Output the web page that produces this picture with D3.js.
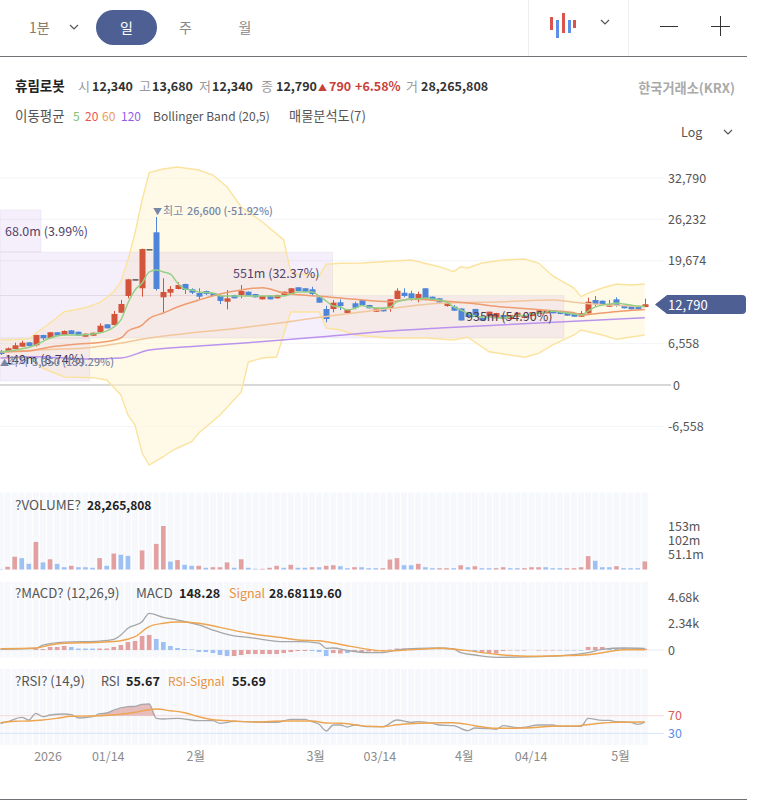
<!DOCTYPE html>
<html><head><meta charset="utf-8">
<script src="https://cdn.jsdelivr.net/npm/d3@7/dist/d3.min.js"></script>
<style>html,body{margin:0;background:#fff}svg{display:block}text{font-family:"Noto Sans CJK KR","Noto Sans",sans-serif}</style>
</head><body><div id="c"></div>
<script>
// ---- data ----
const open  =[5390,5270,5700,6070,6760,6290,7920,7440,8350,7920,8660,8440,7650,7810,8350,9610,9500,11450,14100,16740,15320,21500,24190,13890,14620,15210,16000,15160,14570,14890,14570,14100,13190,14260,14260,14780,14410,13570,14150,13730,14260,14460,15480,15320,15160,13890,12040,12040,13100,11400,12940,13460,12670,11610,12200,12150,13620,14620,14530,13460,15320,13990,13730,12510,12400,12120,11560,12040,10660,10820,10610,11090,10450,10820,10610,10930,11250,11360,11830,11720,11520,11360,10820,11360,13460,13350,12400,13570,12670,12510,12400,12340];
const high  =[5550,5950,6700,7020,6800,7950,7950,8400,8400,8650,8700,8470,8160,8310,9770,9640,11720,13460,16800,16740,21600,21500,26600,16900,15680,16270,16050,15320,15320,14950,14600,14130,15050,14290,15840,14810,14440,14130,14180,14290,14810,15350,15510,15350,15570,13920,12560,13460,13570,12020,13190,13490,12700,12180,12230,13600,15320,15320,14940,14780,15350,14020,13760,13070,12670,12150,11590,12070,10690,11640,11430,11120,11120,11480,11120,11590,11860,11860,11860,11750,11550,11390,11720,13830,14100,13380,13460,13890,12700,12540,12430,13680];
const low   =[4750,5200,5650,6000,6150,6100,7130,7400,7780,7880,8050,7780,7620,7780,8300,8950,9480,11420,13730,16740,13990,21500,14940,11360,13990,15150,14410,14410,13620,14260,14070,12830,11990,13700,13730,14120,13860,13540,13540,13700,14230,14430,14860,14750,14100,13010,9930,11520,11880,11370,11990,12640,12120,11580,11640,11610,13590,13890,13350,13100,13460,13430,13040,12400,11740,10190,10740,10740,10160,10790,10580,10420,10420,10790,10580,10900,11220,11330,11330,11220,10950,10790,10790,11250,12400,12640,12370,12400,12120,11960,11960,12340];
const close =[4910,5810,6290,6700,6180,7920,7400,8350,7810,8550,8080,7810,8130,8280,9390,8980,11250,12830,16740,16740,21540,21500,15210,14730,15210,15840,15050,14620,13990,14410,14100,13310,13730,13730,14890,14150,13890,14100,13570,14260,14780,15320,14890,14780,14410,13040,10450,13040,12510,11990,12240,12670,12150,12150,11670,13570,14940,14100,13730,14410,13730,13460,13070,13040,11770,10220,10770,10770,10190,11610,11400,10450,11090,11450,11090,11560,11830,11830,11360,11250,10980,10820,11360,13190,12830,12670,12830,12670,12150,11990,11990,12790];

const ma5Idx=[0,5,7,9,11,14,16,17,18,19,20,21,22,23,24,25,26,27,28,30,31,32,34,36,40,41,42,44,45,46,47,48,49,50,51,52,53,54,55,56,57,58,59,60,61,62,63,64,65,66,67,68,69,70,71,72,73,74,75,76,77,78,79,80,81,82,83,84,85,86,87,88,89,90,91];
const ma5=[5230,6340,7440,7920,7920,8240,9190,10300,12990,15050,16160,17900,18220,17900,17580,16160,15210,15050,14730,14570,14100,14100,14100,14100,14100,14410,14730,14730,14100,13310,12510,12360,11880,12120,12590,12360,12200,12200,12360,13150,13460,13620,13620,13780,13620,13460,13150,12360,11880,11400,10930,10770,10770,10610,10610,10770,11090,10930,11250,11400,11560,11720,11560,11400,11250,11090,11720,12360,12670,12830,12990,12830,12670,12510,12430];
const ma20Idx=[0,4,7,11,14,17,18,20,21,23,25,28,31,34,37,40,46,50,55,58,62,66,71,75,78,81,82,85,88,91];
const ma20=[5230,5390,6020,6490,6730,7440,8550,9500,10530,11400,12360,13460,14410,15050,15410,14570,13990,13570,13190,13570,13350,12990,12360,12040,11770,11450,11090,11400,11720,11960];
const ma60Idx=[0,5,12,17,21,25,35,46,55,62,71,78,82,91];
const ma60=[5230,5540,5860,6650,7440,8000,9190,10850,12120,12940,13190,13460,12990,12400];
const ma120Idx=[0,5,12,17,21,28,35,46,55,62,91];
const ma120=[4280,4480,4120,4280,5540,6180,6700,7680,8550,9030,10660];
const bbUpperIdx=[0,4,5,7,9,12,14,16,17,18,19,20,21,23,25,28,30,32,34,36,37,40,41,42,45,46,48,51,58,62,64,65,66,68,71,74,76,78,81,82,83,85,87,89,91];
const bbUpper=[7130,7290,8240,9820,11610,12240,13040,14780,16360,19800,24080,29300,33630,34210,34530,34060,33260,31360,28200,26610,25820,22970,17900,17580,17270,19120,19280,19320,19800,18740,17950,18740,18530,19320,19800,19960,19320,17270,15360,13990,14570,15360,16000,15840,16000];
const bbLowerIdx=[0,4,6,9,13,15,17,18,19,20,21,23,24,25,27,28,31,34,35,37,39,41,45,46,48,50,55,60,64,66,69,74,76,78,81,82,85,87,91];
const bbLower=[4280,4280,2650,1270,1160,790,-1580,-4750,-6340,-10770,-12670,-11360,-10570,-9980,-8980,-7600,-4750,-1110,3640,4280,4440,11560,11560,9030,8710,7920,7440,7440,7130,7560,5270,4390,5020,6340,7920,8710,7920,7240,7920];

const priceTicks=[32790,26232,19674,6558,0,-6558];
const profileRows=[
 {lo:21060,hi:27720,share:3.99,label:"68.0m (3.99%)"},
 {lo:14180,hi:21060,share:32.37,label:"551m (32.37%)"},
 {lo:7440,hi:14180,share:54.90,label:"935m (54.90%)"},
 {lo:630,hi:7440,share:8.74,label:"149m (8.74%)"}];

const volume=[1.5,9.5,45,40,20,97,25,36,20,8,13,8,8,6,40,13,56,52,48,0,67,0,90,153,28,33,16.5,13,13,6,8,8,25,6,36,6,2.5,2.5,6,13,6,16.5,6,6,8,8,13,15,11.6,4.6,8,8,4.6,4.6,4.6,35,40,15,15,20,8,4.6,4.6,4.6,4.6,15,8,11.6,4.6,4.6,4.6,8,4.6,4.6,4.6,8,8,8,4.6,4.6,4.6,4.6,8,47,30.6,8,8,11.6,4.6,4.6,4.6,28.27];
const volumeDir="brrbbrbrbb"+"rbbbrbrbb-"+"r-rrbrbbrb"+"rrrbrbbrrr"+"brbbrbrrbb"+"rbbbrrrbbr"+"bbrrbrbrbb"+"rrbbrrrbbb"+"rrrrbbbrbb"+"br";
const volumeTicks=[153,102,51.1];

const macdHist=[0,0,0,0,0,89,89,270,270,360,270,130,130,130,130,130,270,445,710,800,1250,1340,980,710,360,180,90,45,-180,-180,-270,-445,-535,-535,-445,-360,-360,-360,-360,-360,-270,-180,-90,-90,-90,-180,-535,-270,-310,-270,-180,-180,-130,-130,-90,45,130,130,130,90,45,30,30,30,45,-45,-45,-180,-270,-270,-310,-90,-45,-45,-45,0,-45,-45,-45,-45,-45,-45,-45,270,270,270,180,180,180,90,90,119.6];
const macdHistDir="rrrrrrrrrr"+"bbbbrrrrrr"+"rrbbbbbbbb"+"bbbrrrrrrr"+"rrrrbbbrrb"+"rrrrrrrrrr"+"bbbbrrrbrr"+"rrrrrrrrrb"+"bbbrrrbbbb"+"br";
const macdIdx=[0,5,6,9,14,16,17,18,20,21,23,25,28,30,33,35,40,42,45,46,47,49,52,54,56,59,62,64,65,67,70,75,79,81,83,85,88,91];
const macd=[60,150,445,710,800,950,1340,1930,2520,3270,2910,2670,2230,1780,1250,1130,740,740,620,150,180,-45,-240,-240,0,150,180,90,-240,-445,-650,-620,-530,-420,-240,60,180,148.28];
const signalIdx=[0,5,7,9,14,17,19,21,23,25,28,31,35,40,42,45,47,49,52,54,56,59,62,64,66,70,75,79,83,85,88,91];
const signal=[115,180,445,600,690,830,1190,2080,2380,2490,2380,2020,1490,1070,890,830,620,380,60,-90,-60,60,150,90,-60,-380,-560,-510,-420,-240,25,28.68];
const macdTicks=[4680,2340,0];

const rsiIdx=[0,1,3,4,5,6,7,9,10,11,13,14,15,16,18,19,20,21,22,23,25,28,30,31,33,36,39,41,43,44,45,46,47,48,49,50,52,54,56,58,59,61,62,64,66,67,69,70,71,73,74,76,78,79,82,83,85,86,87,89,90,91];
const rsi=[51.9,56.4,66.4,60.3,75.4,67.7,71.6,73.8,72.3,64.8,67.7,74.5,76.1,82.9,90.3,91.2,95.8,96.4,64.1,62.5,64.1,58.7,58.7,52.8,57.3,55.8,55.1,61.9,61.9,56.4,50.6,35.4,49,49,44.5,49,45.1,45.1,60.3,55.1,56.4,52.8,49,47.4,36.1,42.2,40.6,39.3,47.4,42.9,43.8,49,49,46,46,64.1,59.6,59.6,56.4,55.1,50.6,55.67];
const rsiSigIdx=[0,2,4,6,8,10,13,17,19,21,22,24,26,28,30,33,36,40,44,46,48,50,52,54,56,59,62,64,67,70,74,79,81,84,87,91];
const rsiSig=[54.2,57.3,58,60.3,64.1,68.6,69.3,73.2,77.7,83.6,85.1,81.3,76.8,67.7,61,58,55.8,58,58,53.5,52.8,49.7,46,45.1,49.7,52.8,54.2,54.2,47.4,41.5,42.2,46.7,46.7,51.9,55.1,55.69];
const rsiTicks=[70,30];

const dateIdx=[7,15,28,45,54,66,75,88];
const dateLabels=["2026","01/14","2월","3월","03/14","4월","04/14","5월"];

// ---- layout ----
const W=757,H=800,RED="#d4533b",BLUE="#4f85d9";
const svg=d3.select("#c").append("svg").attr("width",W).attr("height",H);
const x=d3.scaleLinear().domain([0,91]).range([0.5,644.8]);
const y=d3.scaleLinear().domain([0,32790]).range([385,178]);
const yVol=d3.scaleLinear().domain([0,153]).range([569.5,526]);
const yMacd=d3.scaleLinear().domain([0,4680]).range([650,597.5]);
const yRsi=d3.scaleLinear().domain([30,70]).range([733.4,715.7]);
const idx=d3.range(92);
function T(px,py,s,o={}){return svg.append("text").attr("x",px).attr("y",py).text(s)
 .attr("font-size",o.size||12.5).attr("font-weight",o.weight||400).attr("fill",o.fill||"#555")
 .attr("text-anchor",o.anchor||"start").attr("letter-spacing",o.ls||0);}
function lineOf(ix,vals,sc,col,w){
 const pts=ix.map((d,i)=>[d,vals[i]]);
 svg.append("path").attr("d",d3.line().x(d=>x(d[0])).y(d=>sc(d[1])).curve(d3.curveMonotoneX)(pts))
  .attr("fill","none").attr("stroke",col).attr("stroke-width",w||1.3);
}
function axisAt(sc,ticks,fmt,color){
 const g=svg.append("g").attr("transform","translate(668,0)")
  .call(d3.axisRight(sc).tickValues(ticks).tickSize(0).tickPadding(0).tickFormat(fmt));
 g.select(".domain").remove();
 g.selectAll("text").attr("font-size",12.5).attr("fill",color||"#555").attr("font-family",'"Noto Sans CJK KR"');
 return g;
}

// ---- header ----
svg.append("line").attr("x1",0).attr("x2",747).attr("y1",56.5).attr("y2",56.5).attr("stroke","#6e7276").attr("stroke-width",1);
svg.append("line").attr("x1",0).attr("x2",747).attr("y1",799.5).attr("y2",799.5).attr("stroke","#6e7276").attr("stroke-width",1);
[528,628].forEach(v=>svg.append("line").attr("x1",v+.5).attr("x2",v+.5).attr("y1",0).attr("y2",56).attr("stroke","#eeeeee"));
T(29,33,"1분",{size:14,fill:"#8a7a66"});
function chev(cx,cy){svg.append("path").attr("d",`M${cx-4},${cy-2}L${cx},${cy+2}L${cx+4},${cy-2}`).attr("fill","none").attr("stroke","#555").attr("stroke-width",1.2);}
chev(74,27);chev(605,22);chev(728,132);
svg.append("rect").attr("x",96).attr("y",10).attr("width",61).attr("height",35).attr("rx",17.5).attr("fill","#4d5f93");
T(126.5,33,"일",{size:14,fill:"#fff",anchor:"middle"});
T(185.5,33,"주",{size:14,fill:"#888",anchor:"middle"});
T(245,33,"월",{size:14,fill:"#888",anchor:"middle"});
[[550,17,30,"#d9534f"],[556,20,38,"#5b8fe8"],[562,13,33,"#d9534f"],[568,20,33,"#5b8fe8"],[573,20,28,"#d9534f"]]
 .forEach(a=>svg.append("rect").attr("x",a[0]).attr("y",a[1]).attr("width",3).attr("height",a[2]-a[1]).attr("fill",a[3]));
svg.append("line").attr("x1",660).attr("x2",678).attr("y1",26.5).attr("y2",26.5).attr("stroke","#333");
svg.append("line").attr("x1",711).attr("x2",730).attr("y1",26.5).attr("y2",26.5).attr("stroke","#333");
svg.append("line").attr("x1",720.5).attr("x2",720.5).attr("y1",16).attr("y2",36).attr("stroke","#333");

const INFO=90.5;
T(15,INFO,"휴림로봇",{size:13.5,weight:700,fill:"#222"});
[[78,"시"],[139,"고"],[199,"저"],[261,"종"],[406,"거"]].forEach(a=>T(a[0],INFO,a[1],{size:13,fill:"#999"}));
[[92,"12,340"],[152,"13,680"],[212,"12,340"],[276,"12,790"],[421,"28,265,808"]].forEach(a=>T(a[0],INFO,a[1],{size:12.5,weight:700,fill:"#333"}));
T(318,INFO,"▲",{size:9,fill:"#c8403a"});
T(329,INFO,"790",{size:12.5,weight:700,fill:"#c8403a"});
T(355,INFO,"+6.58%",{size:12.5,weight:700,fill:"#c8403a"});
T(735,INFO+2,"한국거래소(KRX)",{size:13.2,weight:700,fill:"#aaa",anchor:"end"});
const R2=120.5;
T(15,R2,"이동평균",{size:13.5});
T(73,R2,"5",{size:12,fill:"#7cc36a"});T(85,R2,"20",{size:12,fill:"#e8554e"});T(102,R2,"60",{size:12,fill:"#ef9a5a"});T(121,R2,"120",{size:12,fill:"#8f5fe8"});
T(153,R2,"Bollinger Band (20,5)",{size:12});
T(289,R2,"매물분석도(7)",{size:13.2});
T(681,136.5,"Log",{size:12.5});

// ---- price panel ----
priceTicks.forEach(v=>svg.append("line").attr("x1",0).attr("x2",v===0?671:664).attr("y1",y(v)).attr("y2",y(v))
 .attr("stroke",v===0?"#d8d8d8":"#f3f4f6").attr("stroke-width",v===0?2:1));
axisAt(y,priceTicks,d=>d===0?"0":d3.format(",")(d).replace("−","-"))
 .selectAll("text").attr("dx",d=>d===0?5:0);

const upperPts=bbUpperIdx.map((d,i)=>[d,bbUpper[i]]);
const lowerPts=bbLowerIdx.map((d,i)=>[d,bbLower[i]]);
const bandLine=d3.line().x(d=>x(d[0])).y(d=>y(d[1]));
svg.append("path").attr("d",bandLine(upperPts.concat(lowerPts.slice().reverse()))+"Z").attr("fill","#fff6d2").attr("fill-opacity",.5);

const xProfile=d3.scaleLinear().domain([0,54.90]).range([0,564]);
profileRows.forEach(r=>svg.append("rect").attr("x",0).attr("width",xProfile(r.share)).attr("y",y(r.hi)).attr("height",y(r.lo)-y(r.hi))
 .attr("fill","rgb(135,65,215)").attr("fill-opacity",.085).attr("stroke","rgba(120,100,120,.07)"));

svg.append("path").attr("d",bandLine(upperPts)).attr("fill","none").attr("stroke","#fbe39f").attr("stroke-width",1.4);
svg.append("path").attr("d",bandLine(lowerPts)).attr("fill","none").attr("stroke","#fbe39f").attr("stroke-width",1.4);

const candles=svg.append("g").selectAll("g").data(idx).join("g");
const candleColor=i=>close[i]>open[i]?RED:close[i]<open[i]?BLUE:"#333";
candles.append("line").attr("x1",i=>Math.round(x(i))+.5).attr("x2",i=>Math.round(x(i))+.5)
 .attr("y1",i=>y(high[i])).attr("y2",i=>y(low[i])).attr("stroke",candleColor).attr("stroke-width",1);
candles.append("rect").attr("x",i=>Math.round(x(i))-2.5).attr("width",6)
 .attr("y",i=>y(Math.max(open[i],close[i]))).attr("height",i=>Math.max(1.2,Math.abs(y(open[i])-y(close[i]))))
 .attr("fill",candleColor);

lineOf(ma120Idx,ma120,y,"#bb93ee",1.5);
lineOf(ma60Idx,ma60,y,"#f2c79c",1.5);
lineOf(ma20Idx,ma20,y,"#ee9c70",1.5);
lineOf(ma5Idx,ma5,y,"#93d083",1.4);

const LBL="#54436b";
T(5,235.5,profileRows[0].label,{size:12.5,fill:LBL});
T(233,277.5,profileRows[1].label,{size:12.5,fill:LBL});
T(466,320.5,profileRows[2].label,{size:12.5,fill:"#4a3b52"});
T(5,363.5,profileRows[3].label,{size:12.5,fill:"#3f3a55"});
const NOTE="#7686a6";
T(153,215,"▼",{size:9,fill:NOTE});
T(163,215,"최고 ",{size:11,fill:NOTE});
T(187,215,"26,600 (-51.92%)",{size:10.8,weight:500,fill:NOTE});
T(0,366,"▲",{size:9,fill:NOTE});
T(8,366,"최저 ",{size:11,fill:NOTE});
T(32,366,"5,350 (139.29%)",{size:10.8,weight:500,fill:NOTE});

svg.append("path").attr("d","M655,304.5L667,295H742a4,4 0 0 1 4,4V310a4,4 0 0 1 -4,4H667Z").attr("fill","#4d5f93");
T(668,309.5,"12,790",{size:13,fill:"#fff"});

// ---- lower panels ----
function stripes(top,bottom){
 svg.append("g").selectAll("rect").data(idx).join("rect").attr("x",i=>x(i)-3).attr("width",6)
  .attr("y",top).attr("height",bottom-top).attr("fill","#f6f8fc");
}
stripes(492.5,570);stripes(582,657.5);stripes(669,745);

const VR="#e2a0a0",VB="#9dc0f5";
svg.append("g").selectAll("rect").data(idx).join("rect").attr("x",i=>x(i)-2.3).attr("width",4.6)
 .attr("y",i=>yVol(volume[i])).attr("height",i=>yVol(0)-yVol(volume[i]))
 .attr("fill",i=>volumeDir[i]==="b"?VB:VR);
axisAt(yVol,volumeTicks,d=>d+"m");

svg.append("line").attr("x1",0).attr("x2",664).attr("y1",yMacd(0)).attr("y2",yMacd(0)).attr("stroke","#ecedf0");
svg.append("g").selectAll("rect").data(idx).join("rect").attr("x",i=>x(i)-2.3).attr("width",4.6)
 .attr("y",i=>Math.min(yMacd(0),yMacd(macdHist[i]))).attr("height",i=>Math.abs(yMacd(0)-yMacd(macdHist[i])))
 .attr("fill",i=>macdHistDir[i]==="b"?VB:VR);
lineOf(macdIdx,macd,yMacd,"#a6a6a6");
lineOf(signalIdx,signal,yMacd,"#eda550",1.4);
axisAt(yMacd,macdTicks,d=>d===0?"0":(d/1000)+"k");

svg.append("line").attr("x1",0).attr("x2",664).attr("y1",yRsi(70)).attr("y2",yRsi(70)).attr("stroke","#f7d9d7");
svg.append("line").attr("x1",0).attr("x2",664).attr("y1",yRsi(30)).attr("y2",yRsi(30)).attr("stroke","#d7e4fb");
const fillPts=rsiIdx.map((d,i)=>[d,rsi[i]]).filter(p=>p[0]>=14&&p[0]<=21);
svg.append("path").attr("d",d3.area().x(d=>x(d[0])).y0(yRsi(70)).y1(d=>yRsi(d[1]))(fillPts.concat([[21.9,70]]))).attr("fill","#e6bcbc");
lineOf(rsiIdx,rsi,yRsi,"#a8a8a8");
lineOf(rsiSigIdx,rsiSig,yRsi,"#eda550",1.4);
axisAt(yRsi,rsiTicks,d=>d).selectAll("text").attr("fill",d=>d===70?"#dd5a55":"#5b8fe8");

const dateAxis=svg.append("g").attr("transform","translate(0,752.5)")
 .call(d3.axisBottom(x).tickValues(dateIdx).tickSize(0).tickPadding(0).tickFormat((d,i)=>dateLabels[i]));
dateAxis.select(".domain").remove();
const dateNudge=[-2.5,1,-3.5,-4,-3.5,-4,-1,-3.5];
dateAxis.selectAll("text").attr("font-size",12.5).attr("fill","#8c8c8c").attr("font-family",'"Noto Sans CJK KR"')
 .attr("dx",(d,i)=>dateNudge[i]);

// panel titles
const TT="#555",VV="#222",OR="#e8913f";
T(15,509.5,"?VOLUME?",{size:13.5,fill:TT});
T(87,509.5,"28,265,808",{size:12,weight:700,fill:VV});
T(15,597.5,"?MACD? (12,26,9)",{size:13.2,fill:TT});
T(136,597.5,"MACD",{size:13.4,fill:TT});
T(179,597.5,"148.28",{size:12.6,weight:700,fill:VV});
T(229,597.5,"Signal",{size:12.5,fill:OR});
T(269,597.5,"28.68119.60",{size:12.2,weight:700,fill:VV});
T(15,686,"?RSI? (14,9)",{size:13.2,fill:TT});
T(101,686,"RSI",{size:12.5,fill:TT});
T(126,686,"55.67",{size:12.6,weight:700,fill:VV});
T(168,686,"RSI-Signal",{size:12,fill:OR});
T(232,686,"55.69",{size:12.6,weight:700,fill:VV});
</script></body></html>
